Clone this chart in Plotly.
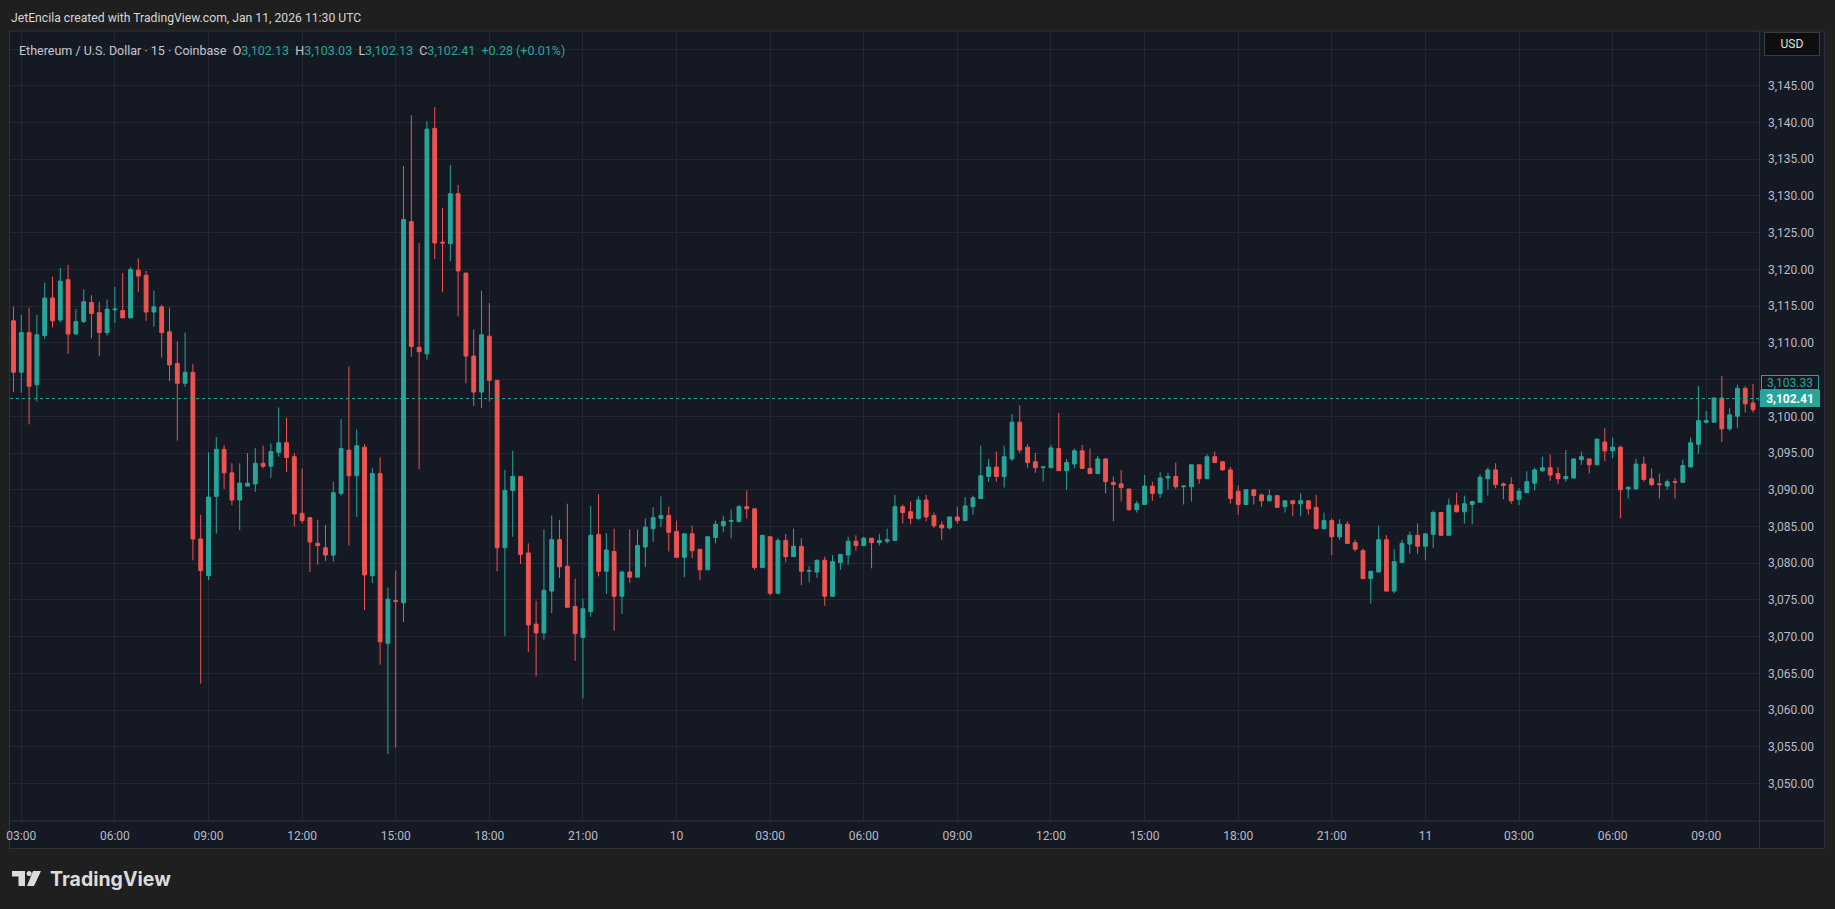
import pandas as pd
import plotly.graph_objects as go

# 15-minute ETH/USD candles (Coinbase), Jan 9 02:45 -> Jan 11 10:45
opens = [
    3113.0, 3106.0, 3111.4, 3104.3, 3111.0, 3116.1, 3113.1, 3118.6, 3111.2, 3112.9,
    3115.5, 3114.1, 3111.4, 3114.5, 3114.4, 3113.4, 3119.9, 3119.2, 3114.2, 3114.9,
    3111.5, 3107.2, 3104.5, 3106.0, 3083.3, 3078.3, 3089.1, 3095.5, 3092.3, 3088.6,
    3090.5, 3090.8, 3093.6, 3093.2, 3095.1, 3096.4, 3094.5, 3086.8, 3086.2, 3082.7,
    3082.1, 3081.1, 3089.5, 3095.4, 3091.9, 3095.8, 3078.3, 3092.2, 3069.1, 3074.9,
    3074.6, 3126.5, 3109.4, 3108.5, 3139.2, 3123.7, 3123.5, 3130.3, 3119.5, 3108.2,
    3103.3, 3110.9, 3104.9, 3082.1, 3089.9, 3091.8, 3081.4, 3071.7, 3070.5, 3076.2,
    3083.2, 3079.6, 3074.1, 3069.9, 3073.4, 3083.9, 3078.9, 3081.6, 3075.5, 3078.8,
    3078.1, 3082.2, 3084.7, 3086.1, 3086.5, 3084.3, 3080.8, 3084.0, 3081.9, 3079.1,
    3083.5, 3085.1, 3085.7, 3085.7, 3087.7, 3087.4, 3079.4, 3083.6, 3075.9, 3083.1,
    3080.9, 3082.3, 3078.9, 3078.8, 3080.4, 3075.5, 3080.1, 3081.1, 3083.0, 3082.4,
    3083.4, 3082.8, 3083.0, 3083.1, 3087.7, 3087.0, 3086.1, 3088.6, 3086.5, 3085.2,
    3084.8, 3086.3, 3085.8, 3087.7, 3088.8, 3091.8, 3093.1, 3091.8, 3094.2, 3099.2,
    3095.8, 3093.8, 3093.0, 3093.0, 3095.6, 3092.6, 3093.5, 3095.3, 3092.9, 3092.2,
    3094.2, 3091.0, 3090.8, 3090.1, 3087.3, 3088.0, 3090.5, 3089.5, 3091.6, 3091.8,
    3090.4, 3090.4, 3093.4, 3091.5, 3094.5, 3093.8, 3092.7, 3089.8, 3088.0, 3090.0,
    3089.3, 3088.5, 3089.2, 3087.7, 3088.5, 3088.1, 3088.5, 3087.6, 3084.7, 3085.8,
    3083.6, 3085.3, 3082.8, 3081.7, 3077.9, 3078.8, 3083.2, 3076.2, 3080.1, 3082.6,
    3083.8, 3082.3, 3083.9, 3086.9, 3083.8, 3087.9, 3087.0, 3088.0, 3088.3, 3091.5,
    3092.7, 3090.8, 3090.7, 3088.7, 3089.6, 3090.9, 3092.6, 3093.0, 3092.2, 3091.5,
    3091.6, 3094.1, 3094.2, 3093.4, 3096.5, 3095.3, 3095.8, 3090.1, 3090.1, 3093.5,
    3091.5, 3090.8, 3090.5, 3091.1, 3091.0, 3093.1, 3096.2, 3099.2, 3099.2, 3102.5,
    3098.3, 3100.0, 3103.8, 3101.8, 3102.13,
]
highs = [
    3114.9, 3113.8, 3114.8, 3113.8, 3118.2, 3119.0, 3120.2, 3120.6, 3114.6, 3117.3,
    3116.5, 3115.6, 3115.9, 3117.6, 3119.5, 3120.3, 3121.5, 3119.8, 3117.1, 3115.2,
    3114.8, 3110.2, 3111.4, 3107.1, 3086.6, 3095.1, 3097.2, 3096.1, 3093.6, 3093.6,
    3095.0, 3095.7, 3096.0, 3096.3, 3101.2, 3099.8, 3095.0, 3092.9, 3086.3, 3085.9,
    3085.2, 3091.1, 3099.6, 3106.8, 3098.2, 3096.2, 3093.0, 3094.4, 3076.7, 3079.0,
    3134.1, 3141.0, 3123.6, 3140.2, 3142.1, 3128.4, 3134.2, 3131.5, 3119.5, 3111.8,
    3117.1, 3115.4, 3104.9, 3092.7, 3095.3, 3091.8, 3082.7, 3074.9, 3084.6, 3086.5,
    3085.9, 3088.1, 3077.9, 3075.2, 3087.8, 3089.4, 3084.1, 3084.7, 3079.0, 3084.6,
    3084.6, 3086.1, 3087.6, 3089.1, 3087.7, 3085.8, 3084.0, 3085.1, 3081.9, 3083.6,
    3085.8, 3086.4, 3087.3, 3087.9, 3089.9, 3087.4, 3083.8, 3083.6, 3083.4, 3084.0,
    3084.7, 3083.4, 3079.6, 3080.5, 3080.9, 3081.1, 3081.2, 3083.6, 3083.8, 3083.6,
    3083.4, 3084.0, 3084.7, 3089.3, 3088.0, 3088.4, 3089.1, 3089.3, 3086.9, 3085.7,
    3086.3, 3087.7, 3089.0, 3089.2, 3096.0, 3094.2, 3095.2, 3096.0, 3100.3, 3101.5,
    3096.2, 3095.0, 3093.1, 3096.1, 3100.5, 3094.2, 3095.6, 3096.1, 3095.6, 3094.6,
    3094.3, 3091.8, 3092.7, 3090.1, 3088.5, 3092.0, 3091.1, 3092.4, 3092.3, 3093.7,
    3090.5, 3093.4, 3093.4, 3094.8, 3095.2, 3093.9, 3093.1, 3090.6, 3090.0, 3090.0,
    3089.5, 3090.0, 3089.3, 3088.5, 3088.5, 3089.5, 3088.5, 3089.3, 3086.9, 3086.1,
    3086.0, 3085.7, 3083.2, 3082.0, 3078.9, 3085.1, 3083.8, 3081.9, 3083.2, 3084.3,
    3085.4, 3084.0, 3087.2, 3086.9, 3088.8, 3089.6, 3089.2, 3088.5, 3092.1, 3093.0,
    3093.6, 3091.0, 3091.7, 3090.2, 3092.5, 3093.0, 3094.5, 3094.8, 3093.1, 3095.4,
    3094.3, 3095.2, 3094.2, 3096.9, 3098.4, 3097.1, 3096.0, 3090.5, 3094.2, 3094.5,
    3092.9, 3092.2, 3091.4, 3091.6, 3094.1, 3097.1, 3104.1, 3100.7, 3102.5, 3105.5,
    3101.1, 3104.3, 3104.1, 3104.4, 3103.03,
]
lows = [
    3103.3, 3103.2, 3098.9, 3102.0, 3110.5, 3112.1, 3112.8, 3108.5, 3111.2, 3112.7,
    3110.6, 3108.2, 3111.0, 3112.7, 3113.4, 3113.4, 3116.9, 3113.0, 3112.2, 3108.0,
    3104.8, 3096.7, 3104.0, 3080.4, 3063.6, 3077.7, 3084.0, 3090.1, 3087.9, 3084.5,
    3090.5, 3089.7, 3092.9, 3091.6, 3094.5, 3092.4, 3085.0, 3085.4, 3078.8, 3079.8,
    3080.3, 3080.2, 3089.2, 3082.4, 3086.3, 3073.6, 3077.3, 3066.2, 3054.0, 3054.9,
    3072.0, 3108.1, 3092.8, 3107.7, 3121.4, 3116.9, 3121.1, 3113.6, 3104.5, 3101.4,
    3101.1, 3102.0, 3078.9, 3070.1, 3083.6, 3079.9, 3067.9, 3064.6, 3069.6, 3073.2,
    3078.0, 3073.9, 3066.7, 3061.6, 3072.7, 3078.2, 3075.8, 3070.8, 3073.1, 3077.3,
    3078.1, 3079.5, 3082.9, 3084.9, 3081.6, 3080.8, 3078.1, 3080.7, 3077.7, 3079.1,
    3082.7, 3084.2, 3083.4, 3085.5, 3086.1, 3079.1, 3079.4, 3075.6, 3075.9, 3080.1,
    3080.9, 3077.0, 3077.4, 3078.0, 3074.2, 3075.4, 3079.1, 3079.8, 3081.7, 3082.3,
    3079.3, 3082.4, 3082.7, 3083.1, 3085.4, 3085.3, 3085.9, 3085.7, 3084.8, 3083.2,
    3084.6, 3085.4, 3085.8, 3086.6, 3088.8, 3091.1, 3091.1, 3090.3, 3093.9, 3095.0,
    3093.0, 3092.3, 3091.1, 3093.0, 3092.6, 3090.0, 3092.9, 3092.9, 3092.2, 3092.2,
    3089.5, 3085.7, 3088.4, 3087.1, 3086.9, 3088.0, 3088.5, 3088.9, 3090.0, 3090.1,
    3088.0, 3088.4, 3090.8, 3091.5, 3093.7, 3092.6, 3088.1, 3086.6, 3087.9, 3088.0,
    3087.7, 3088.4, 3087.6, 3086.9, 3086.4, 3086.4, 3086.6, 3084.7, 3084.7, 3081.1,
    3083.2, 3082.6, 3081.6, 3077.9, 3074.5, 3078.8, 3076.2, 3075.9, 3080.0, 3081.3,
    3081.3, 3080.4, 3082.1, 3083.8, 3083.8, 3086.9, 3085.4, 3085.3, 3088.3, 3089.2,
    3090.2, 3088.7, 3088.1, 3087.9, 3089.6, 3089.9, 3092.4, 3091.2, 3090.8, 3091.1,
    3091.6, 3093.4, 3092.2, 3093.4, 3093.9, 3094.3, 3086.1, 3088.8, 3090.1, 3091.1,
    3090.5, 3088.8, 3090.0, 3088.8, 3091.0, 3093.1, 3094.9, 3099.0, 3099.2, 3096.5,
    3098.0, 3098.4, 3100.5, 3100.5, 3102.13,
]
closes = [
    3106.0, 3111.4, 3104.1, 3111.1, 3116.1, 3113.0, 3118.4, 3111.2, 3112.9, 3115.6,
    3114.0, 3111.4, 3114.6, 3114.6, 3113.4, 3120.0, 3119.1, 3114.2, 3114.9, 3111.4,
    3107.0, 3104.5, 3106.0, 3083.3, 3079.0, 3089.0, 3095.5, 3092.3, 3088.6, 3090.9,
    3090.9, 3093.6, 3093.2, 3095.2, 3096.4, 3094.4, 3086.7, 3085.8, 3082.9, 3082.4,
    3081.1, 3089.6, 3095.6, 3091.9, 3096.0, 3078.4, 3092.2, 3069.3, 3075.1, 3074.8,
    3126.8, 3109.5, 3108.8, 3139.1, 3123.6, 3123.6, 3130.3, 3119.8, 3108.2, 3103.3,
    3111.1, 3104.9, 3082.1, 3089.9, 3091.8, 3081.2, 3071.6, 3070.5, 3076.3, 3083.2,
    3079.5, 3074.0, 3070.4, 3073.8, 3083.8, 3078.9, 3081.8, 3075.5, 3078.8, 3078.1,
    3082.4, 3084.9, 3086.2, 3086.5, 3084.2, 3080.8, 3084.0, 3081.7, 3079.1, 3083.6,
    3085.3, 3085.7, 3085.8, 3087.7, 3087.4, 3079.4, 3083.8, 3075.9, 3083.1, 3080.9,
    3082.3, 3078.9, 3079.0, 3080.4, 3075.5, 3080.2, 3081.2, 3083.0, 3082.4, 3083.4,
    3082.8, 3083.1, 3083.2, 3087.7, 3086.9, 3086.1, 3088.6, 3086.3, 3085.1, 3084.8,
    3086.3, 3085.8, 3087.8, 3088.9, 3091.9, 3093.1, 3091.8, 3094.5, 3099.2, 3095.4,
    3093.7, 3093.0, 3093.1, 3095.7, 3092.6, 3093.7, 3095.3, 3092.9, 3092.2, 3094.2,
    3091.1, 3090.7, 3090.3, 3087.3, 3088.1, 3090.5, 3089.5, 3091.6, 3091.8, 3090.4,
    3090.5, 3093.4, 3091.5, 3094.5, 3093.7, 3092.7, 3088.8, 3088.0, 3090.0, 3089.2,
    3088.5, 3089.2, 3087.6, 3088.5, 3088.1, 3088.5, 3087.4, 3084.7, 3085.8, 3083.6,
    3085.3, 3082.7, 3081.9, 3077.9, 3078.9, 3083.2, 3076.2, 3080.2, 3082.7, 3083.8,
    3082.3, 3084.0, 3086.9, 3083.8, 3087.9, 3087.0, 3088.1, 3088.4, 3091.7, 3092.7,
    3090.7, 3090.6, 3088.5, 3089.8, 3091.1, 3092.7, 3093.0, 3092.0, 3091.5, 3091.8,
    3094.2, 3094.5, 3093.4, 3096.9, 3095.3, 3095.8, 3090.0, 3090.3, 3093.5, 3091.4,
    3090.7, 3090.7, 3091.1, 3091.0, 3093.3, 3096.4, 3099.4, 3099.4, 3102.5, 3098.3,
    3100.2, 3103.8, 3101.7, 3100.9, 3102.41,
]
times = pd.date_range("2026-01-09 02:45", periods=len(opens), freq="15min")

last_price = 3102.41
bid_price = 3103.33

price_ticks = list(range(3050, 3155, 5))
hidden_prices = [3105, 3150]  # covered by the price labels / USD box
price_labels = ["" if p in hidden_prices else f"{p:,.2f}" for p in price_ticks]

time_ticks = pd.date_range("2026-01-09 03:00", "2026-01-11 09:00", freq="3h")
time_labels = ["03:00", "06:00", "09:00", "12:00", "15:00", "18:00", "21:00", "10",
               "03:00", "06:00", "09:00", "12:00", "15:00", "18:00", "21:00", "11",
               "03:00", "06:00", "09:00"]

UP = "#26a69a"
DOWN = "#ef5350"
OUTER = "#1f1f1f"
PANEL = "#151924"
GRID = "#232733"
BORDER = "#2e323d"
TEXT = "#b8bcc6"

W, H = 1835, 909
L, R, T, B = 10, 76, 31, 88
PW, PH = W - L - R, H - T - B


def px(x):
    return (x - L) / PW


def py(y):
    return (H - B - y) / PH


def path(points):
    return "M " + " L ".join(f"{px(x):.5f},{py(y):.5f}" for x, y in points) + " Z"


fig = go.Figure()
fig.add_trace(go.Candlestick(
    x=times, open=opens, high=highs, low=lows, close=closes,
    increasing=dict(line=dict(color=UP, width=1), fillcolor=UP),
    decreasing=dict(line=dict(color=DOWN, width=1), fillcolor=DOWN),
    whiskerwidth=0, hoverinfo="skip", showlegend=False,
))

shapes = [
    # chart panel
    dict(type="rect", xref="paper", yref="paper", x0=px(9.5), x1=px(1824.5),
         y0=py(848.5), y1=py(31), fillcolor=PANEL, line=dict(color=BORDER, width=1),
         layer="below"),
    # time axis line and price axis line
    dict(type="line", xref="paper", yref="paper", x0=px(10), x1=px(1824),
         y0=py(821), y1=py(821), line=dict(color=BORDER, width=1)),
    dict(type="line", xref="paper", yref="paper", x0=px(1759.5), x1=px(1759.5),
         y0=py(31), y1=py(848), line=dict(color=BORDER, width=1)),
    # last price line
    dict(type="line", xref="paper", yref="y", x0=0, x1=1, y0=last_price, y1=last_price,
         line=dict(color=UP, width=1, dash="dot")),
    # TradingView logo
    dict(type="path", xref="paper", yref="paper", fillcolor="#dcdcdc", line=dict(width=0),
         path=path([(12, 871), (25, 871), (25, 886), (18.5, 886), (18.5, 876.5), (12, 876.5)])),
    dict(type="circle", xref="paper", yref="paper", fillcolor="#dcdcdc", line=dict(width=0),
         x0=px(26.6), x1=px(31.6), y0=py(876), y1=py(871)),
    dict(type="path", xref="paper", yref="paper", fillcolor="#dcdcdc", line=dict(width=0),
         path=path([(33, 871), (41, 871), (34, 886), (27, 886)])),
]

legend_text = (
    '<span style="color:#c4c7d0">Ethereum / U.S. Dollar · 15 · Coinbase</span>'
    '&nbsp;&nbsp;<span style="color:#c4c7d0">O</span>3,102.13'
    '&nbsp;&nbsp;<span style="color:#c4c7d0">H</span>3,103.03'
    '&nbsp;&nbsp;<span style="color:#c4c7d0">L</span>3,102.13'
    '&nbsp;&nbsp;<span style="color:#c4c7d0">C</span>3,102.41'
    '&nbsp;&nbsp;+0.28 (+0.01%)'
)

annotations = [
    dict(text="JetEncila created with TradingView.com, Jan 11, 2026 11:30 UTC",
         xref="paper", yref="paper", x=px(9), y=py(18), xanchor="left", yanchor="middle",
         showarrow=False, font=dict(family="Roboto", size=12.2, color="#d6d6d6")),
    dict(text=legend_text, xref="paper", yref="paper", x=px(17), y=py(50),
         xanchor="left", yanchor="middle", showarrow=False,
         font=dict(family="Roboto", size=12.5, color=UP)),
    dict(text="USD", xref="paper", yref="paper", x=px(1792), y=py(44), xanchor="center",
         yanchor="middle", showarrow=False, width=52, height=20, bgcolor="#0e0e0e",
         bordercolor="#3a3d45", borderwidth=1, borderpad=1,
         font=dict(family="Roboto", size=12, color="#e0e0e0")),
    dict(text=f"{bid_price:,.2f}", xref="paper", yref="paper", x=px(1790.5), y=py(382),
         xanchor="center", yanchor="middle", showarrow=False, width=56, height=13,
         bgcolor=PANEL, bordercolor=UP, borderwidth=1, borderpad=0,
         font=dict(family="Roboto", size=12, color=UP)),
    dict(text=f"<b>{last_price:,.2f}</b>", xref="paper", yref="y", x=px(1790.5), y=last_price,
         xanchor="center", yanchor="middle", showarrow=False, width=56, height=13,
         bgcolor=UP, bordercolor=UP, borderwidth=1, borderpad=1,
         font=dict(family="Roboto", size=12, color="#ffffff")),
    dict(text="<b>TradingView</b>", xref="paper", yref="paper", x=px(48), y=py(879),
         xanchor="left", yanchor="middle", showarrow=False,
         font=dict(family="Inter", size=19.5, color="#dcdcdc")),
]

fig.update_layout(
    width=W, height=H, autosize=False,
    margin=dict(l=L, r=R, t=T, b=B, pad=0, autoexpand=False),
    paper_bgcolor=OUTER, plot_bgcolor=PANEL,
    font=dict(family="Roboto", size=12, color=TEXT),
    hovermode=False, showlegend=False,
    shapes=shapes, annotations=annotations,
    xaxis=dict(
        type="date",
        range=["2026-01-09 02:38:18", "2026-01-11 10:41:30"],
        tickvals=list(time_ticks), ticktext=time_labels,
        showgrid=True, gridcolor=GRID, gridwidth=1,
        showline=False, zeroline=False, ticks="",
        ticklabelstandoff=6,
        tickfont=dict(family="Roboto", size=12, color=TEXT),
        rangeslider=dict(visible=False), fixedrange=True,
    ),
    yaxis=dict(
        side="right",
        range=[3044.90, 3152.46],
        tickvals=price_ticks, ticktext=price_labels,
        showgrid=True, gridcolor=GRID, gridwidth=1,
        showline=False, zeroline=False, ticks="",
        ticklabelstandoff=8,
        tickfont=dict(family="Roboto", size=12, color=TEXT),
        fixedrange=True,
    ),
)

fig.write_html("out.html", config={"displayModeBar": False},
               post_script="document.body.style.margin='0';document.body.style.overflow='hidden';")
